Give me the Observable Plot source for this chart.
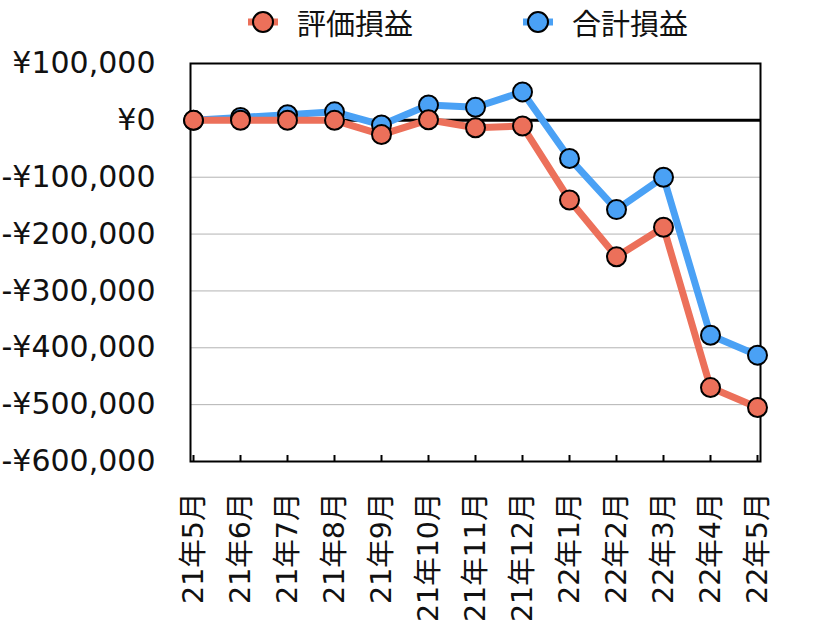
<!DOCTYPE html>
<html><head><meta charset="utf-8">
<script src="https://cdn.jsdelivr.net/npm/d3@7"></script>
<script src="https://cdn.jsdelivr.net/npm/@observablehq/plot@0.6"></script>
<style>
body{margin:0;background:#fff;}
#wrap{width:820px;height:624px;font-family:"DejaVu Sans","Noto Sans CJK JP",sans-serif;}
#legend{height:44px;display:flex;align-items:center;padding-left:248px;font-size:29px;color:#111;}
.item{display:flex;align-items:center;}
.item svg{margin-right:19px;}
</style></head>
<body><div id="wrap"><div id="legend"></div><div id="chart"></div></div>
<script>
const months = ["21年5月","21年6月","21年7月","21年8月","21年9月","21年10月","21年11月","21年12月","22年1月","22年2月","22年3月","22年4月","22年5月"];
const seriesNames = ["評価損益","合計損益"];
const seriesColors = ["#EC705A","#4AA1F5"];
const valuation = [0,0,0,0,-25000,1000,-13000,-10000,-140000,-240000,-188000,-470000,-505000];
const total = [0,5000,10000,15000,-8000,27000,23000,50000,-67000,-157000,-100000,-378000,-413000];
const yTicks = [100000,0,-100000,-200000,-300000,-400000,-500000,-600000];

const rows = [];
months.forEach((m,i)=>{
  rows.push({month:m, series:seriesNames[1], value:total[i]});
  rows.push({month:m, series:seriesNames[0], value:valuation[i]});
});
const blue = rows.filter(d=>d.series===seriesNames[1]);
const red = rows.filter(d=>d.series===seriesNames[0]);

const fmt = v => (v<0?"-":"") + "¥" + d3.format(",")(Math.abs(v));

const chart = Plot.plot({
  width: 820,
  height: 580,
  marginTop: 19,
  marginBottom: 163,
  marginLeft: 190,
  marginRight: 60,
  style: {fontFamily: '"DejaVu Sans","Noto Sans CJK JP",sans-serif', background:"#fff", overflow:"visible", color:"#111"},
  x: {type:"point", domain: months, padding: 0},
  y: {domain:[-600000,100000]},
  marks: [
    Plot.ruleY(yTicks, {stroke:"#b3b3b3", strokeWidth:1}),
    Plot.ruleX(months, {x:d=>d, insetTop:392, stroke:"#000", strokeWidth:2}),
    Plot.ruleY([0], {stroke:"#000", strokeWidth:3}),
    Plot.frame({stroke:"#000", strokeWidth:2}),
    Plot.axisY(yTicks, {tickSize:0, tickPadding:35, tickFormat:fmt, fontSize:30, label:null}),
    Plot.axisX({tickSize:0, tickPadding:31, tickRotate:-90, fontSize:28.5, label:null}),
    Plot.line(blue, {x:"month", y:"value", stroke:seriesColors[1], strokeWidth:7}),
    Plot.line(red, {x:"month", y:"value", stroke:seriesColors[0], strokeWidth:7}),
    Plot.dot(blue, {x:"month", y:"value", r:9.5, fill:seriesColors[1], stroke:"#000", strokeWidth:2}),
    Plot.dot(red, {x:"month", y:"value", r:9.5, fill:seriesColors[0], stroke:"#000", strokeWidth:2})
  ]
});
document.getElementById("chart").appendChild(chart);

const legend = document.getElementById("legend");
seriesNames.forEach((name,i)=>{
  const it = document.createElement("div");
  it.className="item";
  if(i>0) it.style.marginLeft="110px";
  it.innerHTML = `<svg width="30" height="24"><line x1="0" x2="30" y1="12" y2="12" stroke="${seriesColors[i]}" stroke-width="7"/><circle cx="15" cy="12" r="10" fill="${seriesColors[i]}" stroke="#000" stroke-width="2"/></svg><span>${name}</span>`;
  legend.appendChild(it);
});
</script></body></html>
